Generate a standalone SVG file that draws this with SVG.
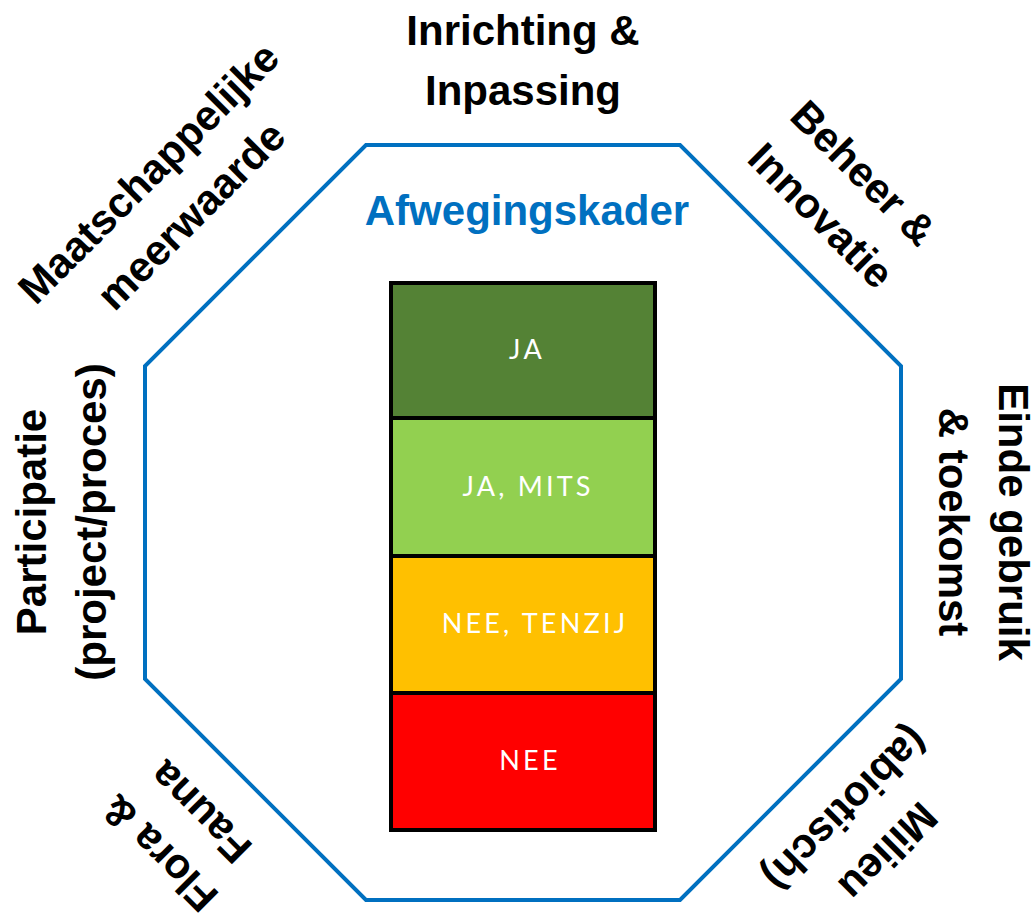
<svg xmlns="http://www.w3.org/2000/svg" width="1035" height="916" viewBox="0 0 1035 916">
<style>
.lbl{font-family:"Liberation Sans",Arial,sans-serif;font-weight:bold;font-size:42px;fill:#000;text-anchor:middle}
.title{font-family:"Liberation Sans",Arial,sans-serif;font-weight:bold;font-size:42px;fill:#0070C0;text-anchor:middle}
.box{stroke:#000;stroke-width:4}
.bt{font-family:Lato,"Open Sans",sans-serif;font-size:27px;fill:#fff;text-anchor:middle;letter-spacing:3.2px}
</style>
<rect width="1035" height="916" fill="#fff"/>
<g id="frame">
<polygon points="366,145 680,145 901,366 901,679 680,900 366,900 145,679 145,366" fill="none" stroke="#0070C0" stroke-width="4"/>
</g>
<g id="title"><text class="title" x="527" y="225">Afwegingskader</text></g>
<g id="ja"><rect class="box" x="391" y="283" width="264" height="135" fill="#548235"/><text class="bt" x="527" y="359">JA</text></g>
<g id="ja-mits"><rect class="box" x="391" y="418" width="264" height="138" fill="#92D050"/><text class="bt" x="528" y="496">JA, MITS</text></g>
<g id="nee-tenzij"><rect class="box" x="391" y="556" width="264" height="137" fill="#FFC000"/><text class="bt" x="535" y="633">NEE, TENZIJ</text></g>
<g id="nee"><rect class="box" x="391" y="693" width="264" height="137" fill="#FF0000"/><text class="bt" x="530" y="770">NEE</text></g>
<g id="inrichting"><text class="lbl" x="523" y="45">Inrichting &amp;</text><text class="lbl" x="523" y="105">Inpassing</text></g>
<g id="beheer" transform="rotate(45 523 522)"><text class="lbl" x="517" y="49">Beheer &amp;</text><text class="lbl" x="517" y="109">Innovatie</text></g>
<g id="einde" transform="rotate(90 523 522)"><text class="lbl" x="523" y="46">Einde gebruik</text><text class="lbl" x="523" y="106">&amp; toekomst</text></g>
<g id="milieu" transform="rotate(135 523 522)"><text class="lbl" x="498" y="45">Milieu</text><text class="lbl" x="498" y="105">(abiotisch)</text></g>
<g id="flora" transform="rotate(-135 523 522)"><text class="lbl" x="546" y="45">Flora &amp;</text><text class="lbl" x="546" y="103">Fauna</text></g>
<g id="participatie" transform="rotate(-90 523 522)"><text class="lbl" x="523" y="45">Participatie</text><text class="lbl" x="523" y="105">(project/proces)</text></g>
<g id="maatschappelijke" transform="rotate(-45 523 522)"><text class="lbl" x="505" y="25">Maatschappelijke</text><text class="lbl" x="505" y="85">meerwaarde</text></g>
<g id="connectors"></g>
</svg>
